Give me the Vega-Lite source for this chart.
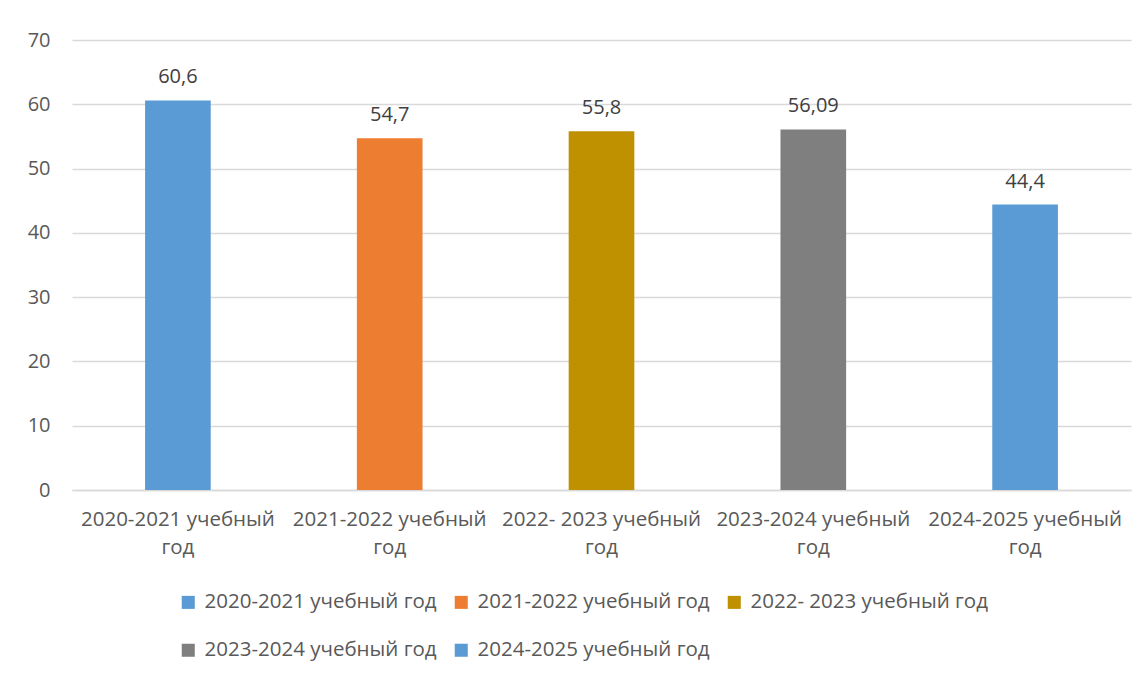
{
  "$schema": "https://vega.github.io/schema/vega-lite/v6.json",
  "width": 1059,
  "height": 450,
  "autosize": {"type": "none"},
  "padding": {"left": 72, "top": 40, "right": 16, "bottom": 185},
  "background": "white",
  "config": {
    "view": {"stroke": null},
    "font": "Open Sans",
    "text": {"font": "Open Sans"}
  },
  "data": {
    "values": [
      {"year": "2020-2021 учебный год", "value": 60.6, "label": "60,6"},
      {"year": "2021-2022 учебный год", "value": 54.7, "label": "54,7"},
      {"year": "2022- 2023 учебный  год", "value": 55.8, "label": "55,8"},
      {"year": "2023-2024 учебный год", "value": 56.09, "label": "56,09"},
      {"year": "2024-2025 учебный год", "value": 44.4, "label": "44,4"}
    ]
  },
  "encoding": {
    "x": {
      "field": "year",
      "type": "nominal",
      "sort": null,
      "scale": {"paddingInner": 0.69, "paddingOuter": 0.345},
      "axis": {
        "title": null,
        "labelAngle": 0,
        "labelFontSize": 20.5,
        "labelColor": "#595959",
        "labelFont": "Open Sans",
        "labelPadding": 19,
        "labelLineHeight": 28,
        "labelExpr": "[trim(replace(datum.label, 'год', '')), 'год']",
        "ticks": false,
        "domainColor": "#d9d9d9",
        "domainWidth": 1.5,
        "labelLimit": 300
      }
    },
    "y": {
      "field": "value",
      "type": "quantitative",
      "scale": {"domain": [0, 70], "nice": false},
      "axis": {
        "title": null,
        "values": [0, 10, 20, 30, 40, 50, 60, 70],
        "labelFontSize": 20,
        "labelColor": "#595959",
        "labelFont": "Open Sans",
        "labelPadding": 22,
        "ticks": false,
        "domain": false,
        "gridColor": "#d9d9d9",
        "gridWidth": 1.5
      }
    }
  },
  "layer": [
    {
      "mark": {"type": "bar"},
      "encoding": {
        "color": {
          "field": "year",
          "type": "nominal",
          "sort": null,
          "scale": {
            "domain": ["2020-2021 учебный год", "2021-2022 учебный год", "2022- 2023 учебный  год", "2023-2024 учебный год", "2024-2025 учебный год"],
            "range": ["#5B9BD5", "#ED7D31", "#BF9000", "#7F7F7F", "#5B9BD5"]
          },
          "legend": {
            "title": null,
            "orient": "none",
            "legendX": 106,
            "legendY": 552,
            "direction": "horizontal",
            "columns": 3,
            "symbolType": "square",
            "symbolSize": 170,
            "symbolStrokeWidth": 0,
            "labelFontSize": 20.5,
            "labelColor": "#595959",
            "labelFont": "Open Sans",
            "labelLimit": 400,
            "rowPadding": 27,
            "columnPadding": 14,
            "labelOffset": 6
          }
        }
      }
    },
    {
      "mark": {"type": "text", "baseline": "bottom", "dy": -13, "fontSize": 20, "color": "#404040", "font": "Open Sans"},
      "encoding": {
        "text": {"field": "label"}
      }
    }
  ]
}
